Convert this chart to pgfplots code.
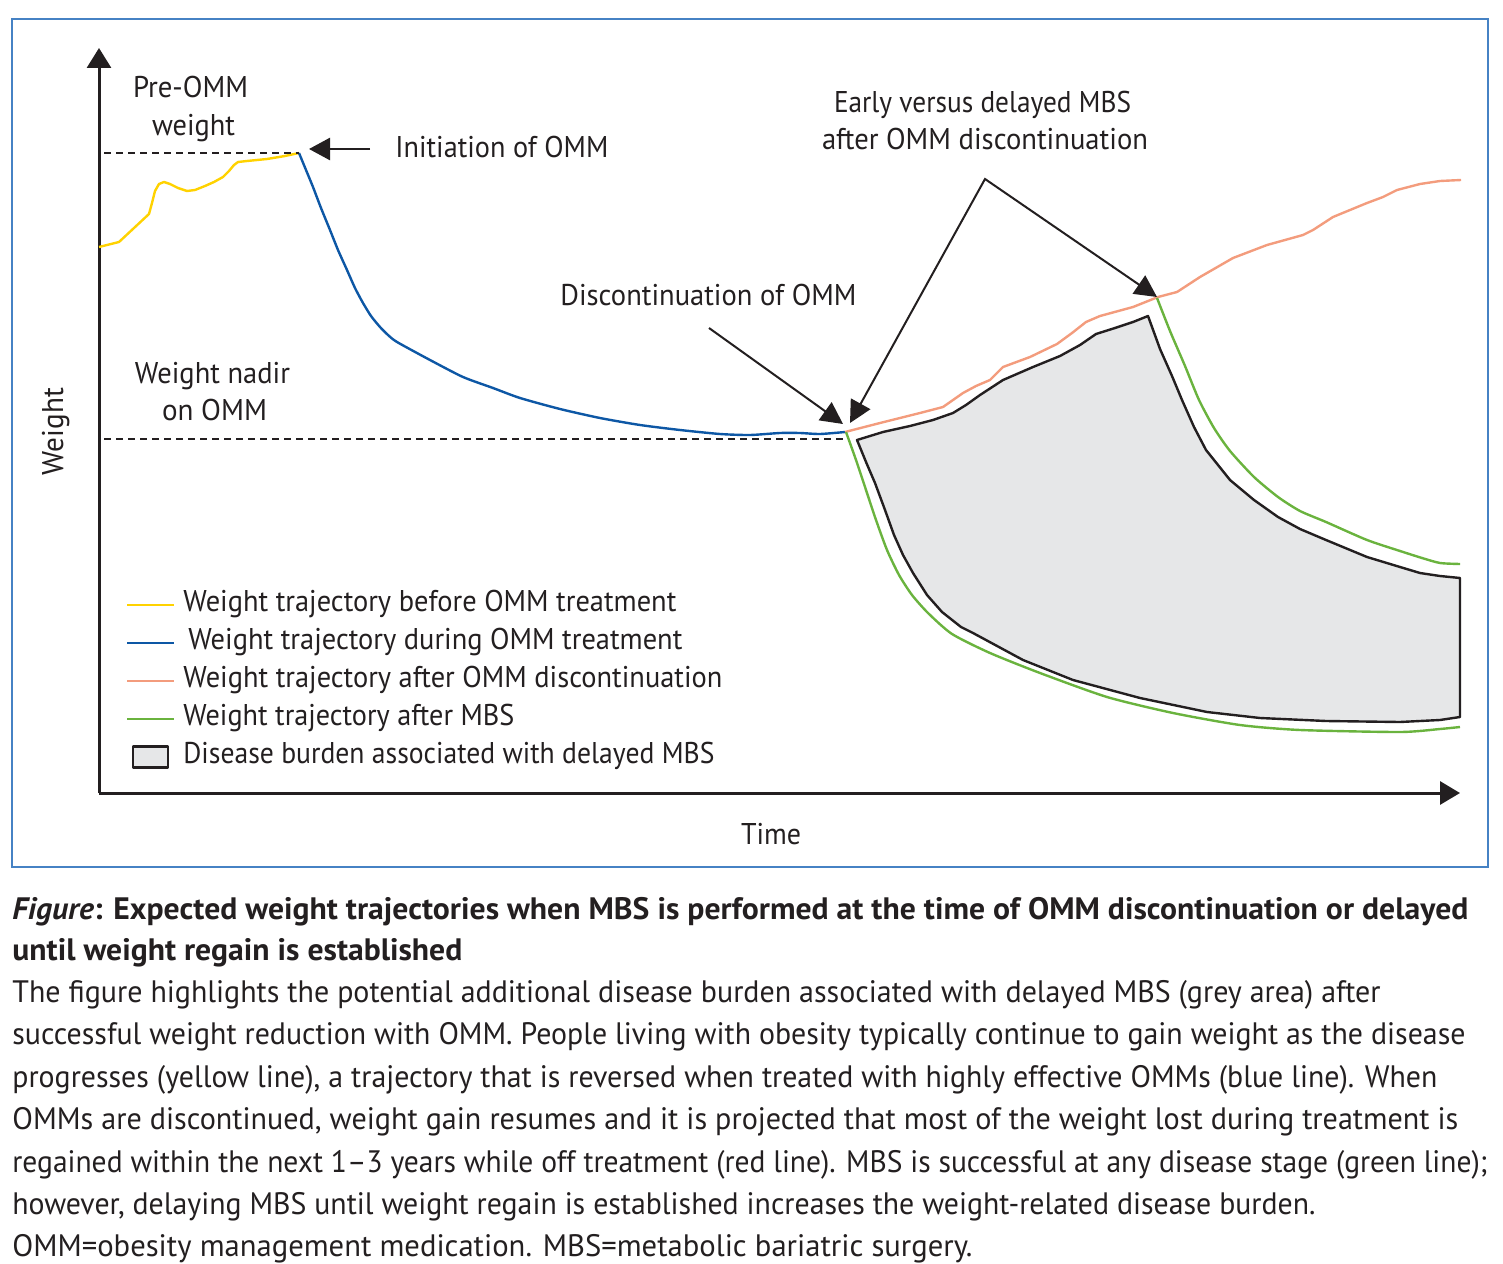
\documentclass[border=0pt]{standalone}
\usepackage{fontspec}
\setmainfont{PT Sans}
\usepackage{graphicx}
\usepackage{pgfplots}
\pgfplotsset{compat=1.18}
\usetikzlibrary{arrows.meta}
\definecolor{txt}{HTML}{231F20}
\definecolor{yel}{HTML}{FFD200}
\definecolor{blu}{HTML}{0D57A5}
\definecolor{ora}{HTML}{F39C7D}
\definecolor{grn}{HTML}{6AB33E}
\definecolor{gfill}{HTML}{E6E7E8}
\definecolor{framec}{HTML}{4682C4}
\newcommand{\fitw}[2]{\resizebox{#1}{\height}{#2}}
\newcommand{\chartfont}{\fontsize{15pt}{18pt}\selectfont}
\newcommand{\capfont}{\fontsize{15.5pt}{18pt}\selectfont}
\pgfplotsset{
  linelegend/.style={legend image code/.code={\draw[##1] (0pt,0pt) -- (23.5pt,0pt);}},
  boxlegend/.style={legend image code/.code={\draw[##1] (3pt,-5.25pt) rectangle (20.5pt,5.25pt);}},
}
\begin{document}
\begin{tikzpicture}
\begin{scope}[x=0.5pt,y=0.5pt]
\path[use as bounding box] (0,0) rectangle (1503,-1263);
\draw[framec, line width=0.8pt] (12,-19) rectangle (1488,-867);
\end{scope}
\begin{axis}[
  at={(49.5pt,-396.5pt)}, anchor=south west,
  scale only axis, width=680.5pt, height=372.5pt,
  xmin=99, xmax=1460, ymin=-793, ymax=-48,
  axis lines=left, ticks=none, clip=false,
  axis line style={draw=txt, line width=1.5pt},
  x axis line style={-{Triangle[length=10pt,width=11.5pt]}},
  y axis line style={-{Triangle[length=10pt,width=12pt]}},
  linelegend,
  legend cell align=left,
  legend style={at={(0.01984,0.2725)}, anchor=north west, draw=none, fill=none,
    inner sep=0pt, outer sep=0pt, row sep=4pt, column sep=4pt,
    nodes={inner sep=0pt, text height=11pt, text depth=4pt, font=\chartfont, text=txt}},
  every axis plot/.append style={line join=round},
]
% disease burden area
\addplot[draw=txt, fill=gfill, line width=1.2pt, forget plot] coordinates {
(857,-440) (883,-432) (910,-426) (933,-420) (953,-413) (966,-405) (980,-395) (1003,-380)
(1033,-367) (1060,-356) (1080,-345) (1096,-334) (1115,-328) (1133,-322) (1148,-316)
(1160,-349) (1172,-376) (1182,-400) (1194,-427) (1206,-450) (1230,-480) (1254,-500)
(1278,-517) (1300,-529) (1326,-540) (1367,-557) (1400,-567) (1420,-573) (1440,-576)
(1460,-578) (1460,-717) (1440,-720) (1400,-722) (1326,-721) (1260,-718) (1207,-712)
(1140,-698) (1073,-680) (1023,-660) (973,-633) (961,-627) (942,-612) (927,-595)
(913,-573) (903,-555) (894,-535) (885,-510) (875,-483) (866,-462)
} -- cycle;
% before OMM
\addplot[yel, line width=1.2pt, forget plot] coordinates {
(99,-247) (119,-242) (134,-228) (149,-214) (152,-203) (155,-191) (159,-184) (164,-182)
(170,-184) (178,-188) (187,-191) (195,-190) (205,-186) (214,-182) (223,-177) (229,-171)
(234,-165) (238,-162) (247,-161) (267,-159) (285,-156) (299,-153)};
% during OMM
\addplot[blu, line width=1.2pt, smooth, tension=0.4, forget plot] coordinates {
(299,-153) (306,-170) (313,-187) (321,-208) (330,-230) (338,-250) (347,-270) (355,-288)
(363,-303) (371,-316) (380,-327) (388,-335) (397,-342) (430,-360) (463,-377) (493,-388)
(520,-398) (560,-409) (600,-418) (640,-425) (680,-430) (720,-434) (750,-435) (780,-433)
(800,-433) (820,-434) (845,-432)};
% after discontinuation
\addplot[ora, line width=1.2pt, forget plot] coordinates {
(845,-432) (880,-423) (920,-413) (943,-407) (963,-393) (976,-386) (990,-380) (1003,-367)
(1030,-357) (1057,-344) (1072,-333) (1086,-322) (1100,-316) (1133,-307) (1158,-297)
(1177,-292) (1200,-277) (1233,-258) (1267,-245) (1303,-235) (1313,-230) (1333,-217)
(1367,-203) (1383,-197) (1397,-190) (1420,-184) (1440,-181) (1461,-180)};
% after early MBS
\addplot[grn, line width=1.2pt, smooth, tension=0.4, forget plot] coordinates {
(846,-432) (856,-460) (866,-490) (876,-520) (887,-550) (899,-575) (912,-595) (928,-613)
(952,-634) (990,-653) (1040,-673) (1107,-697) (1173,-713) (1240,-725) (1300,-730)
(1400,-732) (1440,-729) (1460,-727)};
% after delayed MBS
\addplot[grn, line width=1.2pt, smooth, tension=0.4, forget plot] coordinates {
(1157,-298) (1170,-331) (1185,-366) (1199,-400) (1214,-428) (1230,-451) (1254,-477)
(1278,-497) (1300,-511) (1326,-522) (1367,-540) (1400,-551) (1422,-558) (1440,-563)
(1460,-564)};
% reference levels
\addplot[txt, line width=1.2pt, dash pattern=on 3.5pt off 2.5pt, forget plot] coordinates {(104,-153) (299,-153)};
\addplot[txt, line width=1.2pt, dash pattern=on 3.5pt off 2.5pt, forget plot] coordinates {(104,-439) (847,-439)};
% annotation arrows
\draw[txt, line width=1.3pt, -{Triangle[length=10.5pt,width=11pt]}] (axis cs:370,-149) -- (axis cs:309,-149);
\draw[txt, line width=1pt, -{Triangle[length=11pt,width=11pt]}] (axis cs:709,-328) -- (axis cs:843,-424);
\draw[txt, line width=1pt, {Triangle[length=11pt,width=11pt]}-{Triangle[length=11pt,width=11pt]}]
  (axis cs:850,-423) -- (axis cs:985,-179) -- (axis cs:1157,-297);
% legend
\addlegendimage{yel, line width=1.2pt}
\addlegendentry{\fitw{246.5pt}{Weight trajectory before OMM treatment}}
\addlegendimage{blu, line width=1.2pt}
\addlegendentry{\hspace{2.5pt}\fitw{247pt}{Weight trajectory during OMM treatment}}
\addlegendimage{ora, line width=1.2pt}
\addlegendentry{\fitw{269.5pt}{Weight trajectory after OMM discontinuation}}
\addlegendimage{grn, line width=1.2pt}
\addlegendentry{\fitw{165.5pt}{Weight trajectory after MBS}}
\addlegendimage{boxlegend, draw=txt, fill=gfill, line width=1.1pt}
\addlegendentry{\fitw{265.5pt}{Disease burden associated with delayed MBS}}
\end{axis}
\begin{scope}[x=0.5pt,y=0.5pt, every node/.style={inner sep=0pt, text=txt}]
% chart labels
\node[anchor=base, font=\chartfont] at (190.5,-98) {\fitw{57.5pt}{Pre-OMM}};
\node[anchor=base, font=\chartfont] at (193.5,-135) {\fitw{41.5pt}{weight}};
\node[anchor=base west, font=\chartfont] at (395,-157) {\fitw{106.5pt}{Initiation of OMM}};
\node[anchor=base, font=\chartfont] at (212.5,-383) {\fitw{77.5pt}{Weight nadir}};
\node[anchor=base, font=\chartfont] at (214.5,-420) {\fitw{52.5pt}{on OMM}};
\node[anchor=base west, font=\chartfont] at (560,-305) {\fitw{148pt}{Discontinuation of OMM}};
\node[anchor=base, font=\chartfont] at (982.5,-113) {\fitw{148.5pt}{Early versus delayed MBS}};
\node[anchor=base, font=\chartfont] at (985,-150) {\fitw{163pt}{after OMM discontinuation}};
\node[anchor=base, font=\chartfont] at (771,-844) {\fitw{30pt}{Time}};
\node[anchor=base, rotate=90, font=\chartfont] at (63,-431.5) {\fitw{43.5pt}{Weight}};
% caption
\node[anchor=base west, font=\capfont] at (12,-919) {\fitw{728pt}{\textbf{\textit{Figure}: Expected weight trajectories when MBS is performed at the time of OMM discontinuation or delayed}}};
\node[anchor=base west, font=\capfont] at (12,-960) {\fitw{225pt}{\textbf{until weight regain is established}}};
\node[anchor=base west, font=\capfont] at (12,-1002) {\fitw{684pt}{The figure highlights the potential additional disease burden associated with delayed MBS (grey area) after}};
\node[anchor=base west, font=\capfont] at (12,-1044) {\fitw{726.5pt}{successful weight reduction with OMM. People living with obesity typically continue to gain weight as the disease}};
\node[anchor=base west, font=\capfont] at (12,-1087) {\fitw{712.5pt}{progresses (yellow line), a trajectory that is reversed when treated with highly effective OMMs (blue line). When}};
\node[anchor=base west, font=\capfont] at (12,-1129) {\fitw{723pt}{OMMs are discontinued, weight gain resumes and it is projected that most of the weight lost during treatment is}};
\node[anchor=base west, font=\capfont] at (12,-1172) {\fitw{737.5pt}{regained within the next 1–3 years while off treatment (red line). MBS is successful at any disease stage (green line);}};
\node[anchor=base west, font=\capfont] at (12,-1214) {\fitw{651.5pt}{however, delaying MBS until weight regain is established increases the weight-related disease burden.}};
\node[anchor=base west, font=\capfont] at (12,-1256) {\fitw{480pt}{OMM=obesity management medication. MBS=metabolic bariatric surgery.}};
\end{scope}
\end{tikzpicture}
\end{document}
